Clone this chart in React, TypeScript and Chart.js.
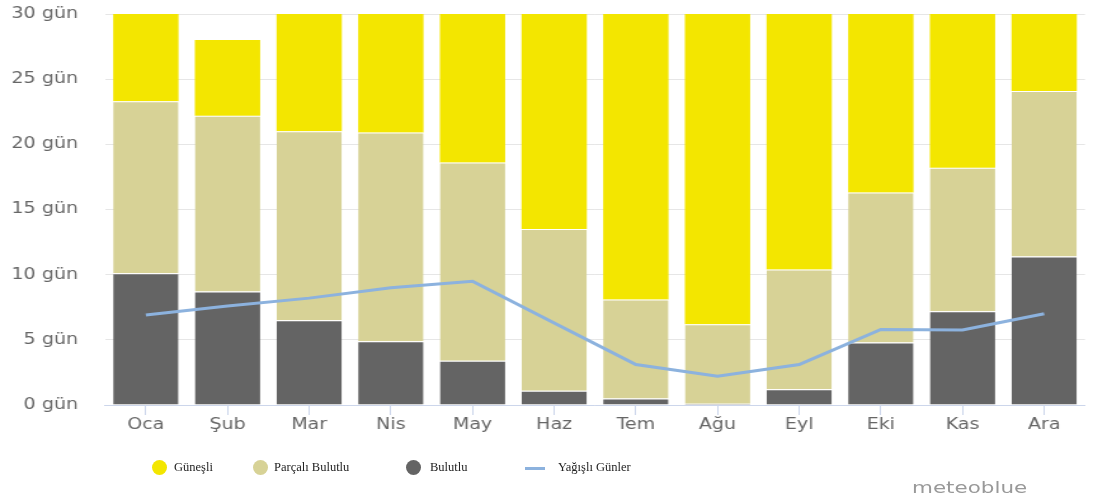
import React, { useEffect, useRef } from "react";
import { Chart, registerables } from "chart.js";

Chart.register(...registerables);

const months = ["Oca", "Şub", "Mar", "Nis", "May", "Haz", "Tem", "Ağu", "Eyl", "Eki", "Kas", "Ara"];
const cloudy = [10.1, 8.7, 6.5, 4.9, 3.4, 1.1, 0.5, 0.1, 1.2, 4.8, 7.2, 11.4];
const partlyCloudy = [13.2, 13.5, 14.5, 16.0, 15.2, 12.4, 7.6, 6.1, 9.2, 11.5, 11.0, 12.7];
const sunny = [7.7, 5.8, 10.0, 9.1, 12.4, 16.5, 22.9, 24.8, 19.6, 14.7, 11.8, 6.9];
const rainyDays = [6.9, 7.6, 8.2, 9.0, 9.5, 6.3, 3.1, 2.2, 3.1, 5.8, 5.75, 7.0];
const yTicks = [0, 5, 10, 15, 20, 25, 30];
const seriesNames = ["Güneşli", "Parçalı Bulutlu", "Bulutlu", "Yağışlı Günler"];

const COLORS = {
  sunny: "#f3e600",
  partly: "#d7d296",
  cloudy: "#646464",
  rain: "#8cb2de",
};

const W = 1093;
const H = 499;
const STRETCH = 1.27;
const CW = Math.round(W / STRETCH);
const SX = W / CW;

export default function App() {
  const ref = useRef<HTMLCanvasElement | null>(null);

  useEffect(() => {
    document.body.style.margin = "0";
    const canvas = ref.current;
    if (!canvas) return;
    const bar = (label: string, data: number[], color: string, topBorder: number) => ({
      type: "bar" as const,
      label,
      data,
      backgroundColor: color,
      borderColor: "#ffffff",
      borderWidth: { top: topBorder, left: 0, right: 0, bottom: 0 },
      borderSkipped: false as any,
      stack: "days",
      order: 1,
      barPercentage: 0.8,
      categoryPercentage: 1,
    });
    const chart = new Chart(canvas, {
      type: "bar",
      data: {
        labels: months,
        datasets: [
          {
            type: "line" as const,
            label: seriesNames[3],
            data: rainyDays,
            borderColor: COLORS.rain,
            borderWidth: 3,
            pointRadius: 0,
            tension: 0,
            fill: false,
            stack: "rain",
            order: 0,
          } as any,
          bar(seriesNames[2], cloudy, COLORS.cloudy, 1),
          bar(seriesNames[1], partlyCloudy, COLORS.partly, 1),
          bar(seriesNames[0], sunny, COLORS.sunny, 0),
        ],
      },
      options: {
        responsive: false,
        animation: false,
        layout: { padding: { top: 14, right: 8 / SX, left: 0, bottom: 0 } },
        plugins: { legend: { display: false }, tooltip: { enabled: false } },
        scales: {
          x: {
            stacked: true,
            offset: true,
            grid: {
              offset: false,
              drawOnChartArea: false,
              drawTicks: true,
              tickLength: 10,
              tickColor: "#ccd6eb",
            },
            border: { color: "#ccd6eb", width: 1 },
            ticks: {
              color: "#666666",
              padding: 1,
              font: { family: "DejaVu Sans", size: 15 },
              maxRotation: 0,
              autoSkip: false,
            },
            afterFit(scale: any) {
              scale.height = H - 405;
            },
          },
          y: {
            stacked: true,
            min: 0,
            max: 30,
            afterBuildTicks(scale: any) {
              scale.ticks = yTicks.map((v) => ({ value: v }));
            },
            grid: { color: "#e6e6e6", drawTicks: false },
            border: { display: false },
            ticks: {
              color: "#666666",
              padding: (105 - 78) / SX,
              font: { family: "DejaVu Sans", size: 15 },
              callback: (v: any) => `${v} gün`,
            },
            afterFit(scale: any) {
              scale.width = 105 / SX;
              scale.paddingTop = 0;
              scale.paddingBottom = 0;
            },
          },
        },
      },
    } as any);
    return () => chart.destroy();
  }, []);

  const legendItems = [
    { name: seriesNames[0], color: COLORS.sunny, marker: "circle", mx: 152, tx: 174 },
    { name: seriesNames[1], color: COLORS.partly, marker: "circle", mx: 253, tx: 274 },
    { name: seriesNames[2], color: COLORS.cloudy, marker: "circle", mx: 406, tx: 430 },
    { name: seriesNames[3], color: COLORS.rain, marker: "line", mx: 525, tx: 558 },
  ];

  return (
    <div style={{ position: "absolute", left: 0, top: 0, width: W, height: H, background: "#fff", overflow: "hidden" }}>
      <div style={{ position: "absolute", left: 0, top: 0, width: CW, height: H, transform: `scaleX(${SX})`, transformOrigin: "0 0" }}>
        <canvas ref={ref} width={CW} height={H} style={{ display: "block" }} />
      </div>
      {legendItems.map((it) => (
        <React.Fragment key={it.name}>
          {it.marker === "circle" ? (
            <div
              style={{
                position: "absolute",
                left: it.mx,
                top: 460,
                width: 15,
                height: 15,
                borderRadius: "50%",
                background: it.color,
              }}
            />
          ) : (
            <div
              style={{
                position: "absolute",
                left: it.mx,
                top: 467,
                width: 20,
                height: 3,
                background: it.color,
              }}
            />
          )}
          <div
            style={{
              position: "absolute",
              left: it.tx,
              top: 459,
              fontFamily: "'Liberation Serif', serif",
              fontSize: 12.5,
              lineHeight: "16px",
              color: "#222",
              whiteSpace: "nowrap",
            }}
          >
            {it.name}
          </div>
        </React.Fragment>
      ))}
      <div
        style={{
          position: "absolute",
          left: 912,
          top: 478,
          fontFamily: "'DejaVu Sans', sans-serif",
          fontSize: 16.5,
          lineHeight: "20px",
          color: "#999",
          transform: "scaleX(1.3)",
          transformOrigin: "left center",
          whiteSpace: "nowrap",
        }}
      >
        meteoblue
      </div>
    </div>
  );
}
